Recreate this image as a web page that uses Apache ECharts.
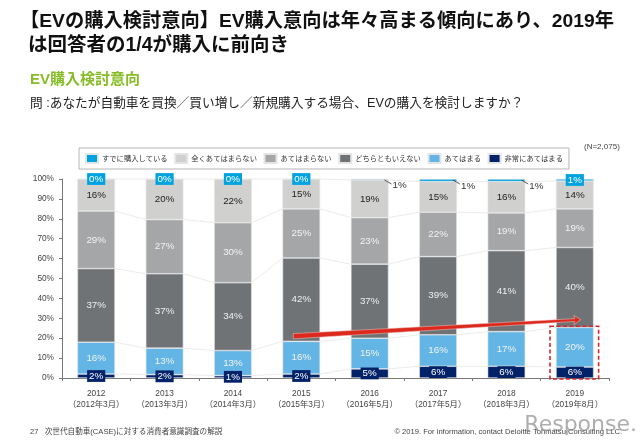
<!DOCTYPE html>
<html>
<head>
<meta charset="utf-8">
<style>
  html, body { margin: 0; padding: 0; background: #fff; }
  #chart { width: 640px; height: 442px; }
</style>
<script src="https://cdn.jsdelivr.net/npm/echarts@6/dist/echarts.min.js"></script>
</head>
<body>
<div id="chart"></div>
<script>
var FONT = '"Liberation Sans","Noto Sans CJK JP",sans-serif';

var years = ['2012', '2013', '2014', '2015', '2016', '2017', '2018', '2019'];
var surveyDates = ['2012年3月', '2013年3月', '2014年3月', '2015年3月', '2016年5月', '2017年5月', '2018年3月', '2019年8月'];

var legendOrder = ['すでに購入している', '全くあてはまらない', 'あてはまらない', 'どちらともいえない', 'あてはまる', '非常にあてはまる'];

// 下から積み上げ
var veryTrue = [2.0, 1.7, 1.2, 2.0, 4.6, 5.9, 5.9, 5.5];
var isTrue = [16.0, 13.3, 12.6, 16.4, 15.4, 15.8, 17.4, 19.9];
var neutral = [37.0, 37.4, 34.1, 41.9, 37.2, 39.3, 40.7, 40.2];
var notTrue = [28.9, 27.2, 30.1, 24.7, 23.4, 22.3, 19.0, 19.4];
var notAtAll = [16.1, 20.4, 22.0, 15.0, 18.9, 15.4, 15.7, 14.0];
var bought = [0, 0, 0, 0, 0.5, 1.3, 1.3, 1.0];

// 棒の外に出す1%ラベルのカテゴリ
var outsideLabels = [4, 5, 6];

// 赤い矢印と点線枠 [カテゴリ, %]
var arrowFrom = [3, 21];
var arrowTo = [7, 29.3];
var highlightBox = [7, 26];

var BAR_RATIO = 0.55;

init();

function init() {
  var myChart = echarts.init(document.getElementById('chart'));
  myChart.setOption(buildOption());
}

function pct(params) {
  return Math.round(params.value) + '%';
}

function barSeries(name, data, color, labelColor, labelBg) {
  var label = {
    show: true,
    position: 'inside',
    formatter: pct,
    color: labelColor,
    fontFamily: FONT,
    fontSize: 9.8
  };
  if (labelBg) {
    label.backgroundColor = labelBg;
    label.padding = [1, 2];
  }
  return {
    name: name,
    type: 'bar',
    stack: 'total',
    barWidth: BAR_RATIO * 100 + '%',
    data: data,
    z: 3,
    itemStyle: { color: color, borderColor: '#e4e4e4', borderWidth: 0.6 },
    label: label
  };
}

// 棒の間の薄い接続線
function connectorData() {
  var rows = [];
  var layers = [veryTrue, isTrue, neutral, notTrue, notAtAll];
  for (var i = 0; i < years.length - 1; i++) {
    var a = 0;
    var b = 0;
    for (var k = 0; k < layers.length; k++) {
      a += layers[k][i];
      b += layers[k][i + 1];
      rows.push([i, a, b]);
    }
  }
  return rows;
}

function renderConnector(params, api) {
  var half = api.size([1, 0])[0] * BAR_RATIO / 2;
  var p1 = api.coord([api.value(0), api.value(1)]);
  var p2 = api.coord([api.value(0) + 1, api.value(2)]);
  return {
    type: 'line',
    shape: { x1: p1[0] + half, y1: p1[1], x2: p2[0] - half, y2: p2[1] },
    style: { stroke: '#ececec', lineWidth: 1 }
  };
}

// 1%ラベルへの引き出し線
function renderLeader(params, api) {
  var half = api.size([1, 0])[0] * BAR_RATIO / 2;
  var p = api.coord([api.value(0), 100]);
  return {
    type: 'line',
    shape: { x1: p[0] + half - 4, y1: p[1] + 1, x2: p[0] + half + 3, y2: p[1] + 5 },
    style: { stroke: '#333', lineWidth: 0.8 }
  };
}

function renderArrow(params, api) {
  var s = api.coord(arrowFrom);
  var e = api.coord(arrowTo);
  var x1 = s[0] - 8;
  var y1 = s[1];
  var x2 = e[0] + 6;
  var y2 = e[1];
  var neck = x2 - 6;
  var t = (neck - x1) / (x2 - x1);
  var yn = y1 + (y2 - y1) * t;
  return {
    type: 'polygon',
    shape: {
      points: [
        [x1, y1 - 2.6], [neck, yn - 1.4], [neck - 1, yn - 4.6], [x2, y2],
        [neck - 1, yn + 4.6], [neck, yn + 1.4], [x1, y1 + 2.6]
      ]
    },
    style: { fill: '#dc291e', stroke: '#f3c9c5', lineWidth: 0.5 }
  };
}

function renderBox(params, api) {
  var half = api.size([1, 0])[0] * BAR_RATIO / 2 + 6;
  var top = api.coord(highlightBox);
  var bottom = api.coord([highlightBox[0], 0]);
  return {
    type: 'rect',
    shape: { x: top[0] - half, y: top[1], width: half * 2 - 1, height: bottom[1] - top[1] + 1 },
    style: { fill: null, stroke: '#d8262c', lineWidth: 1.6, lineDash: [4, 2.5] }
  };
}

function buildOption() {
  var boughtSeries = barSeries(legendOrder[0], bought, '#00a3e0', '#fff', '#00a3e0');
  boughtSeries.labelLayout = function (params) {
    if (outsideLabels.indexOf(params.dataIndex) >= 0) {
      return { dx: 30, dy: 6 };
    }
    return {};
  };
  boughtSeries.data = bought.map(function (v, i) {
    if (outsideLabels.indexOf(i) >= 0) {
      return { value: v, label: { color: '#333', backgroundColor: 'transparent' } };
    }
    return v;
  });

  return {
    backgroundColor: '#fff',
    animation: false,
    textStyle: { fontFamily: FONT },
    grid: { left: 62, right: 31, top: 179, bottom: 64 },
    legend: {
      data: legendOrder,
      left: 79,
      top: 148,
      padding: [5, 6],
      itemWidth: 12,
      itemHeight: 9,
      itemGap: 6.6,
      borderColor: '#b5b5b5',
      borderWidth: 1,
      icon: 'rect',
      textStyle: { fontFamily: FONT, fontSize: 7.3, color: '#333', padding: [0, 0, 0, -1] }
    },
    xAxis: {
      type: 'category',
      data: years,
      axisLine: { lineStyle: { color: '#777', width: 1 } },
      axisTick: { show: true, alignWithLabel: false, length: 3, lineStyle: { color: '#777' } },
      axisLabel: {
        interval: 0,
        margin: 10,
        color: '#444',
        fontFamily: FONT,
        fontSize: 8.3,
        lineHeight: 11,
        formatter: function (value, index) {
          return value + '\n（' + surveyDates[index] + '）';
        }
      }
    },
    yAxis: {
      type: 'value',
      min: 0,
      max: 100,
      interval: 10,
      axisLine: { show: true, lineStyle: { color: '#777', width: 1 } },
      axisTick: { show: true, length: 3, lineStyle: { color: '#777' } },
      splitLine: { show: false },
      axisLabel: { margin: 8, color: '#444', fontFamily: FONT, fontSize: 8.3, formatter: '{value}%' }
    },
    series: [
      barSeries(legendOrder[5], veryTrue, '#012169', '#fff', '#012169'),
      barSeries(legendOrder[4], isTrue, '#62b5e5', '#f2f2f2'),
      barSeries(legendOrder[3], neutral, '#707376', '#eeeeee'),
      barSeries(legendOrder[2], notTrue, '#a5a6a8', '#f2f2f2'),
      barSeries(legendOrder[1], notAtAll, '#d0d0ce', '#222'),
      boughtSeries,
      {
        type: 'custom',
        z: 1,
        silent: true,
        clip: false,
        renderItem: renderConnector,
        encode: { x: 0, y: [1, 2] },
        data: connectorData()
      },
      {
        type: 'custom',
        z: 5,
        silent: true,
        clip: false,
        renderItem: renderLeader,
        encode: { x: 0 },
        data: outsideLabels.map(function (i) { return [i]; })
      },
      {
        type: 'custom',
        z: 6,
        silent: true,
        clip: false,
        renderItem: renderArrow,
        encode: { x: 0, y: 1 },
        data: [arrowFrom]
      },
      {
        type: 'custom',
        z: 6,
        silent: true,
        clip: false,
        renderItem: renderBox,
        encode: { x: 0, y: 1 },
        data: [highlightBox]
      }
    ],
    graphic: [
      { type: 'text', left: 20, top: 12, style: { text: '【EVの購入検討意向】EV購入意向は年々高まる傾向にあり、2019年', fontFamily: FONT, fontWeight: 'bold', fontSize: 19.25, fill: '#111' } },
      { type: 'text', left: 28, top: 36, style: { text: 'は回答者の1/4が購入に前向き', fontFamily: FONT, fontWeight: 'bold', fontSize: 19.5, fill: '#111' } },
      { type: 'text', left: 30, top: 72, style: { text: 'EV購入検討意向', fontFamily: FONT, fontWeight: 'bold', fontSize: 15, fill: '#86bc25' } },
      { type: 'text', left: 30, top: 97, style: { text: '問 :あなたが自動車を買換／買い増し／新規購入する場合、EVの購入を検討しますか？', fontFamily: FONT, fontSize: 12.7, fill: '#222' } },
      { type: 'text', left: 584, top: 143, style: { text: '(N=2,075)', fontFamily: FONT, fontSize: 8, fill: '#444' } },
      { type: 'text', left: 30, top: 428, style: { text: '27   次世代自動車(CASE)に対する消費者意識調査の解説', fontFamily: FONT, fontSize: 7.6, fill: '#444' } },
      { type: 'text', right: 18, top: 428, style: { text: '© 2019. For information, contact Deloitte Tohmatsu Consulting LLC.', fontFamily: FONT, fontSize: 7.6, fill: '#444' } },
      { type: 'text', right: 3, top: 414, style: { text: 'Response.', fontFamily: '"DejaVu Sans",sans-serif', fontSize: 22, fill: 'rgba(130,130,130,0.65)' } }
    ]
  };
}
</script>
</body>
</html>
